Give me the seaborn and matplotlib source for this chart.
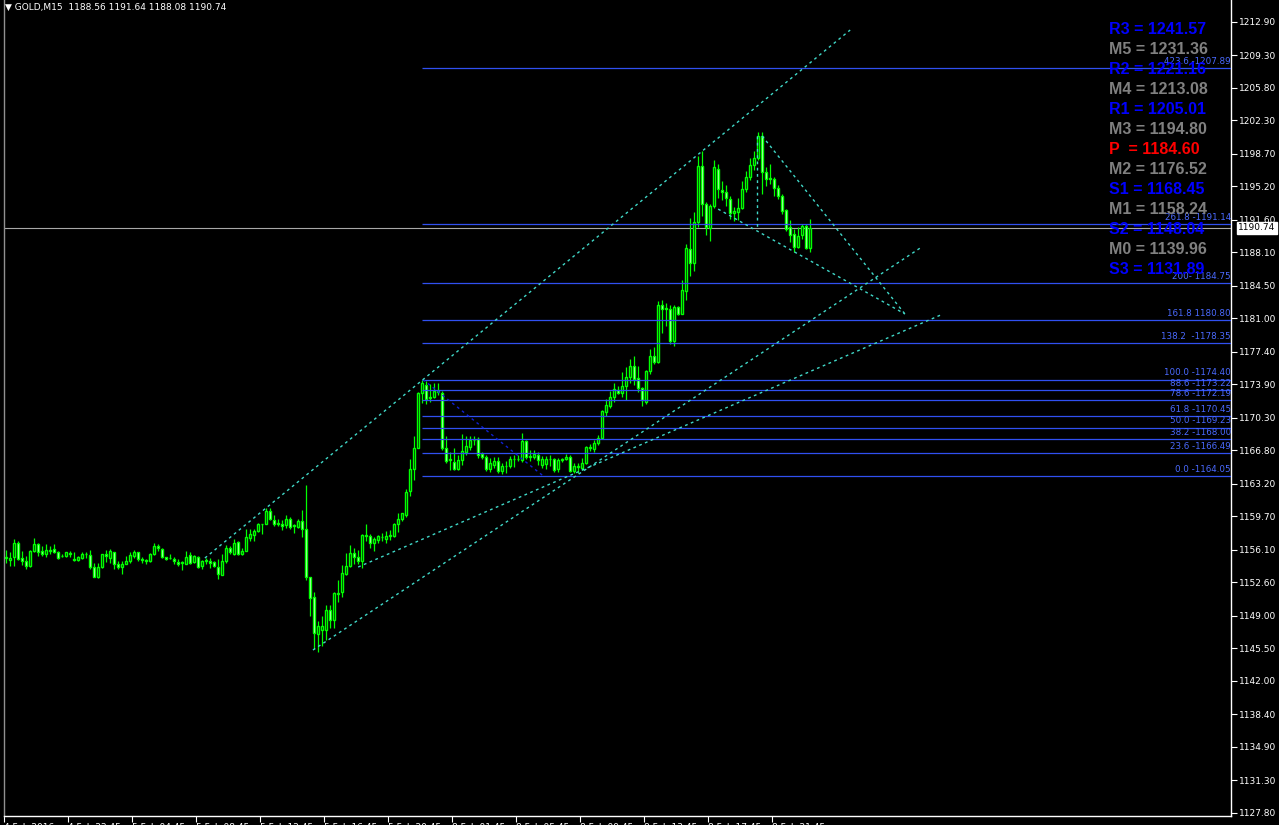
import matplotlib
matplotlib.use("Agg")
import numpy as np
import pandas as pd
import seaborn as sns
import matplotlib.pyplot as plt
import matplotlib.transforms as mtransforms

# ---- GOLD M15 candles ----
opens = [1155.3, 1155.0, 1155.3, 1156.8, 1155.2, 1154.9, 1154.3, 1155.9, 1156.7, 1155.9,
         1155.6, 1156.0, 1156.2, 1155.8, 1155.4, 1155.4, 1155.7, 1155.1, 1155.0, 1155.2,
         1155.6, 1155.5, 1154.2, 1153.1, 1154.2, 1155.6, 1155.2, 1155.8, 1154.6, 1154.2,
         1154.6, 1154.9, 1155.4, 1155.8, 1155.1, 1155.0, 1154.9, 1155.6, 1156.5, 1156.2,
         1155.3, 1155.2, 1155.1, 1154.8, 1154.7, 1154.6, 1155.5, 1154.8, 1155.3, 1154.3,
         1154.9, 1154.9, 1154.8, 1154.2, 1153.4, 1154.9, 1156.3, 1155.6, 1156.9, 1155.6,
         1156.0, 1157.3, 1157.7, 1158.1, 1158.8, 1158.9, 1160.2, 1159.3, 1158.9, 1158.9,
         1158.7, 1159.4, 1158.6, 1158.5, 1159.2, 1158.3, 1153.1, 1151.0, 1147.0, 1147.4,
         1147.4, 1149.6, 1148.5, 1151.4, 1151.5, 1153.5, 1154.3, 1155.7, 1155.3, 1154.9,
         1157.7, 1157.6, 1156.8, 1157.1, 1157.5, 1157.2, 1157.6, 1157.6, 1158.9, 1159.4,
         1159.8, 1162.4, 1164.8, 1167.0, 1173.0, 1173.8, 1172.5, 1172.5, 1173.2, 1172.9,
         1167.0, 1165.8, 1165.5, 1164.8, 1165.7, 1166.6, 1167.1, 1167.9, 1168.0, 1166.4,
         1166.1, 1164.8, 1165.2, 1165.6, 1164.6, 1165.1, 1165.1, 1165.8, 1165.9, 1165.7,
         1167.8, 1166.2, 1166.1, 1166.3, 1165.2, 1165.3, 1165.8, 1165.9, 1164.8, 1165.7,
         1165.8, 1166.1, 1164.6, 1165.0, 1164.9, 1165.4, 1167.1, 1166.9, 1167.6, 1168.1,
         1170.9, 1171.6, 1172.5, 1173.3, 1172.9, 1173.7, 1174.7, 1175.9, 1174.6, 1173.5,
         1172.0, 1175.3, 1176.9, 1176.3, 1182.4, 1182.1, 1182.0, 1178.5, 1182.2, 1181.5,
         1183.9, 1188.4, 1186.9, 1191.4, 1197.4, 1193.3, 1190.7, 1193.1, 1197.1, 1194.8,
         1194.6, 1193.8, 1192.3, 1192.4, 1192.9, 1194.9, 1196.2, 1197.5, 1198.2, 1200.6,
         1196.7, 1196.1, 1196.0, 1195.0, 1194.2, 1192.6, 1190.8, 1190.1, 1188.7, 1189.9,
         1190.9, 1188.56]
highs = [1156.1, 1155.8, 1157.2, 1157.0, 1155.9, 1155.4, 1156.1, 1157.3, 1156.8, 1156.5,
         1156.7, 1156.5, 1156.7, 1155.9, 1155.6, 1155.8, 1155.9, 1155.8, 1155.4, 1155.8,
         1155.8, 1156.1, 1154.7, 1154.7, 1155.6, 1156.1, 1156.2, 1155.8, 1154.9, 1154.9,
         1155.4, 1155.8, 1156.1, 1155.8, 1155.3, 1155.1, 1155.7, 1156.8, 1156.7, 1156.3,
         1155.3, 1155.6, 1155.3, 1155.1, 1154.9, 1155.9, 1155.8, 1155.5, 1155.4, 1155.0,
         1155.2, 1155.2, 1154.9, 1155.1, 1155.6, 1156.6, 1156.5, 1157.2, 1157.0, 1156.3,
         1158.3, 1158.3, 1158.3, 1159.0, 1158.9, 1160.6, 1160.6, 1159.8, 1159.4, 1159.3,
         1159.8, 1159.6, 1158.9, 1159.4, 1160.4, 1163.0, 1153.2, 1151.5, 1148.4, 1149.0,
         1150.1, 1150.1, 1151.5, 1152.8, 1154.4, 1155.7, 1156.6, 1156.3, 1156.1, 1157.8,
         1158.9, 1157.8, 1157.4, 1157.7, 1157.9, 1158.1, 1158.2, 1159.0, 1160.0, 1160.0,
         1162.6, 1165.8, 1168.3, 1173.1, 1174.4, 1174.2, 1173.9, 1174.0, 1174.0, 1173.2,
         1168.3, 1166.6, 1167.0, 1166.3, 1168.5, 1168.3, 1168.3, 1168.3, 1168.2, 1166.6,
         1166.3, 1166.0, 1166.1, 1166.1, 1165.4, 1165.6, 1166.2, 1166.3, 1166.3, 1168.6,
         1167.9, 1166.8, 1166.8, 1166.6, 1166.2, 1166.2, 1166.3, 1166.0, 1166.0, 1166.0,
         1166.4, 1166.3, 1165.4, 1165.4, 1166.0, 1167.2, 1167.5, 1167.9, 1168.4, 1171.1,
         1172.3, 1173.2, 1174.0, 1173.7, 1175.2, 1175.7, 1176.6, 1176.9, 1175.9, 1173.6,
         1175.4, 1177.7, 1177.9, 1182.8, 1183.0, 1182.6, 1182.4, 1182.4, 1182.3, 1185.1,
         1189.0, 1191.8, 1192.4, 1198.4, 1199.0, 1193.5, 1193.3, 1198.0, 1197.6, 1195.8,
         1195.3, 1194.1, 1193.0, 1193.9, 1195.8, 1196.8, 1198.2, 1199.0, 1201.0, 1201.0,
         1197.3, 1197.6, 1196.2, 1195.3, 1194.4, 1192.8, 1191.6, 1190.6, 1190.8, 1191.1,
         1191.1, 1191.64]
lows = [1154.7, 1154.3, 1154.3, 1155.0, 1154.4, 1154.0, 1154.2, 1155.8, 1155.4, 1155.4,
        1155.3, 1155.6, 1155.7, 1155.1, 1155.3, 1155.3, 1155.3, 1154.9, 1154.9, 1155.1,
        1155.2, 1154.0, 1153.1, 1153.0, 1154.1, 1154.8, 1154.7, 1154.0, 1154.0, 1153.5,
        1154.5, 1154.7, 1155.2, 1154.9, 1154.7, 1154.5, 1154.8, 1155.5, 1156.0, 1155.2,
        1155.0, 1155.1, 1154.5, 1154.3, 1153.9, 1154.5, 1154.5, 1154.7, 1154.1, 1154.0,
        1154.5, 1154.1, 1154.2, 1152.9, 1153.4, 1154.7, 1155.6, 1155.5, 1155.5, 1155.5,
        1156.0, 1157.0, 1157.0, 1158.0, 1157.8, 1158.8, 1159.3, 1158.6, 1158.6, 1158.2,
        1158.4, 1158.3, 1157.9, 1158.4, 1157.5, 1152.8, 1148.9, 1145.4, 1145.1, 1145.7,
        1146.4, 1147.7, 1147.7, 1150.5, 1151.0, 1153.4, 1154.2, 1154.5, 1154.5, 1154.1,
        1157.0, 1156.3, 1156.0, 1156.8, 1157.0, 1156.8, 1157.1, 1157.4, 1158.0, 1159.2,
        1159.6, 1161.9, 1163.6, 1167.0, 1171.9, 1171.8, 1172.0, 1172.4, 1172.7, 1166.8,
        1165.4, 1164.7, 1164.7, 1164.7, 1165.2, 1166.3, 1166.8, 1167.3, 1166.0, 1165.9,
        1164.6, 1164.4, 1164.9, 1164.3, 1164.2, 1164.3, 1164.9, 1165.0, 1165.6, 1165.5,
        1165.8, 1165.6, 1165.8, 1165.2, 1164.9, 1164.8, 1165.1, 1164.5, 1164.5, 1165.5,
        1165.7, 1164.5, 1164.3, 1164.3, 1164.7, 1165.3, 1166.7, 1166.6, 1167.4, 1168.0,
        1170.5, 1171.3, 1172.0, 1172.8, 1172.5, 1172.2, 1174.0, 1173.8, 1173.1, 1171.5,
        1171.8, 1175.0, 1176.1, 1176.2, 1179.4, 1180.2, 1178.2, 1178.0, 1181.3, 1181.4,
        1183.0, 1185.5, 1186.1, 1190.8, 1192.0, 1189.9, 1189.3, 1192.9, 1193.9, 1193.7,
        1193.1, 1191.7, 1191.5, 1191.6, 1192.7, 1194.6, 1195.9, 1197.0, 1198.0, 1194.4,
        1195.2, 1195.4, 1194.1, 1193.8, 1192.2, 1190.4, 1189.2, 1188.1, 1188.5, 1189.5,
        1188.4, 1188.08]
closes = [1155.2, 1155.2, 1156.8, 1155.1, 1154.9, 1154.3, 1156.0, 1156.7, 1155.8, 1155.6,
          1156.1, 1156.1, 1155.8, 1155.2, 1155.4, 1155.8, 1155.6, 1155.0, 1155.3, 1155.6,
          1155.6, 1154.2, 1153.2, 1154.2, 1155.6, 1155.4, 1155.9, 1154.6, 1154.2, 1154.6,
          1154.9, 1155.5, 1155.8, 1155.1, 1155.0, 1154.9, 1155.6, 1156.5, 1156.3, 1155.3,
          1155.1, 1155.2, 1154.9, 1154.6, 1154.7, 1155.3, 1154.7, 1155.4, 1154.2, 1154.9,
          1154.9, 1154.7, 1154.3, 1153.5, 1154.9, 1156.3, 1155.8, 1156.8, 1155.6, 1156.0,
          1157.4, 1157.8, 1158.1, 1158.8, 1158.9, 1160.2, 1159.4, 1158.8, 1158.9, 1158.6,
          1159.4, 1158.5, 1158.7, 1159.2, 1158.3, 1153.2, 1150.9, 1147.1, 1147.9, 1147.9,
          1149.6, 1148.5, 1151.4, 1151.3, 1153.6, 1154.3, 1155.7, 1155.3, 1154.9, 1157.7,
          1157.6, 1156.8, 1157.2, 1157.6, 1157.4, 1157.6, 1157.6, 1158.9, 1159.4, 1160.0,
          1162.3, 1164.8, 1167.0, 1172.9, 1174.0, 1172.3, 1172.4, 1173.2, 1173.1, 1167.0,
          1165.6, 1165.7, 1164.8, 1165.7, 1166.7, 1167.2, 1167.9, 1167.9, 1166.3, 1166.1,
          1164.8, 1165.4, 1165.6, 1164.6, 1165.1, 1165.1, 1165.9, 1165.8, 1165.8, 1167.8,
          1166.1, 1166.1, 1166.4, 1165.7, 1165.8, 1165.9, 1165.9, 1164.7, 1165.7, 1165.8,
          1166.1, 1164.6, 1165.1, 1165.1, 1165.4, 1167.1, 1167.0, 1167.6, 1168.1, 1171.0,
          1171.7, 1172.5, 1173.4, 1173.0, 1173.7, 1174.7, 1175.9, 1174.5, 1173.5, 1172.2,
          1175.3, 1176.9, 1176.3, 1182.4, 1182.0, 1182.0, 1178.5, 1182.2, 1181.5, 1184.0,
          1188.5, 1186.9, 1191.4, 1197.4, 1193.3, 1190.8, 1193.1, 1197.3, 1194.9, 1194.6,
          1193.9, 1192.3, 1192.5, 1192.9, 1194.9, 1196.2, 1197.5, 1198.2, 1200.6, 1196.7,
          1196.0, 1196.0, 1195.0, 1194.1, 1192.5, 1190.6, 1190.0, 1188.7, 1189.8, 1190.9,
          1188.6, 1190.74]

# x-axis labels every 16 bars
time_labels = ["4 Feb 2016", "4 Feb 22:45", "5 Feb 04:45", "5 Feb 08:45", "5 Feb 12:45",
               "5 Feb 16:45", "5 Feb 20:45", "8 Feb 01:45", "8 Feb 05:45", "8 Feb 09:45",
               "8 Feb 13:45", "8 Feb 17:45", "8 Feb 21:45"]
price_ticks = [1212.90, 1209.30, 1205.80, 1202.30, 1198.70, 1195.20, 1191.60, 1188.10,
               1184.50, 1181.00, 1177.40, 1173.90, 1170.30, 1166.80, 1163.20, 1159.70,
               1156.10, 1152.60, 1149.00, 1145.50, 1142.00, 1138.40, 1134.90, 1131.30, 1127.80]

# fibonacci levels drawn from bar 104
fib_levels = [1207.89, 1191.14, 1184.75, 1180.80, 1178.35, 1174.40, 1173.22, 1172.19,
              1170.45, 1169.23, 1168.00, 1166.49, 1164.05]
fib_labels = ["423.6 -1207.89", "261.8 -1191.14", "200- 1184.75", "161.8 1180.80",
              "138.2  -1178.35", "100.0 -1174.40", "88.6 -1173.22", "78.6 -1172.19",
              "61.8 -1170.45", "50.0 -1169.23", "38.2 -1168.00", "23.6 -1166.49", "0.0 -1164.05"]

# pivot panel
pivot_names = ["R3", "M5", "R2", "M4", "R1", "M3", "P ", "M2", "S1", "M1", "S2", "M0", "S3"]
pivot_values = [1241.57, 1231.36, 1221.16, 1213.08, 1205.01, 1194.80, 1184.60,
                1176.52, 1168.45, 1158.24, 1148.04, 1139.96, 1131.89]
pivot_colors = ["#0000FF", "#808080", "#0000FF", "#808080", "#0000FF", "#808080", "#FF0000",
                "#808080", "#0000FF", "#808080", "#0000FF", "#808080", "#0000FF"]

# trend lines: (bar, price) -> (bar, price)
trend_x0 = [49.8, 76.8, 88.1, 178.1, 189.1, 187.9]
trend_p0 = [1155.19, 1145.29, 1154.22, 1192.74, 1200.60, 1200.60]
trend_x1 = [211.1, 228.6, 234.3, 224.8, 224.8, 187.9]
trend_p1 = [1212.01, 1188.55, 1181.45, 1181.45, 1181.45, 1190.74]
fib_diag_x = [104.3, 134.3]
fib_diag_p = [1174.40, 1164.05]

last_price = 1190.74

sns.set_theme(style="dark", rc={"axes.facecolor": "black", "figure.facecolor": "black",
                                "savefig.facecolor": "black"})
plt.rcParams["font.family"] = ["DejaVu Sans"]

df = pd.DataFrame({"open": opens, "high": highs, "low": lows, "close": closes})
df["bar"] = np.arange(len(df))
df["bottom"] = df[["open", "close"]].min(axis=1)
df["height"] = (df["close"] - df["open"]).abs().clip(lower=0.03)
df["face"] = np.where(df["close"] >= df["open"], "black", "#F0FFF0")

fig = plt.figure(figsize=(12.79, 8.25), dpi=100)
ax = fig.add_axes([4 / 1279, 9 / 825, 1227 / 1279, 816 / 825])
ax.set_facecolor("black")

lime = "#00FF00"
ax.vlines(df["bar"], df["low"], df["high"], color=lime, linewidth=0.9, zorder=3)
ax.bar(df["bar"], df["height"], bottom=df["bottom"], width=0.6, color=df["face"],
       edgecolor=lime, linewidth=1.0, zorder=3)

# current price line
ax.axhline(last_price, color="#A8A8A8", linewidth=0.8, zorder=2)

# fibonacci
ax.hlines(fib_levels, 104.1, 400, color="#3050F0", linewidth=0.9, zorder=4)
blend = mtransforms.blended_transform_factory(ax.transAxes, ax.transData)
for lvl, lab in zip(fib_levels, fib_labels):
    ax.annotate(lab, xy=(1.0, lvl), xycoords=blend, xytext=(0, 1.5),
                textcoords="offset points", ha="right", va="bottom",
                color="#4A6AFF", fontsize=6.3, zorder=6)
sns.lineplot(x=fib_diag_x, y=fib_diag_p, ax=ax, color="#1020D0", linewidth=1.0,
             linestyle=(0, (2, 2.5)), estimator=None, sort=False, zorder=4)

# trend lines
for x0, p0, x1, p1 in zip(trend_x0, trend_p0, trend_x1, trend_p1):
    ax.plot([x0, x1], [p0, p1], color="#40D8C8", linewidth=1.0,
            linestyle=(0, (2, 2.5)), zorder=4)

ax.set_xlim(-0.425, 306.3)
ax.set_ylim(1127.43, 1215.24)

# axes styling
ax.spines["top"].set_visible(False)
for side in ["bottom", "right"]:
    ax.spines[side].set_visible(True)
    ax.spines[side].set_color("white")
    ax.spines[side].set_linewidth(1.0)
ax.spines["left"].set_visible(True)
ax.spines["left"].set_color("#909090")
ax.spines["left"].set_linewidth(1.0)
ax.grid(False)

ax.yaxis.tick_right()
ax.set_yticks(price_ticks)
ax.set_yticklabels([f"{v:.2f}" for v in price_ticks])
ax.tick_params(axis="y", colors="white", length=4, width=0.8, labelsize=6.5, pad=2,
               direction="out", left=False, right=True)

ax.set_xticks([16 * j - 0.425 for j in range(len(time_labels))])
ax.set_xticklabels(time_labels, ha="left")
ax.tick_params(axis="x", colors="white", length=4, width=0.8, labelsize=6.5, pad=1,
               direction="out", bottom=True)

# current price box on the axis
ax.annotate(f"{last_price:.2f}", xy=(1.0, last_price), xycoords=blend, xytext=(5, 0),
            textcoords="offset points", ha="left", va="center", color="black",
            fontsize=6.5, zorder=7,
            bbox=dict(boxstyle="square,pad=0.15", facecolor="white", edgecolor="white"))

# title
fig.text(5 / 1279, 1 - 7 / 825,
         "\u25BC GOLD,M15  1188.56 1191.64 1188.08 1190.74",
         color="white", fontsize=6.5, va="center", ha="left")

# pivot panel
for j, (nm, val, col) in enumerate(zip(pivot_names, pivot_values, pivot_colors)):
    fig.text(1109 / 1279, 1 - (29 + 20 * j) / 825, f"{nm} = {val:.2f}",
             color=col, fontsize=11.5, fontweight="bold", family=["Liberation Sans"],
             va="center", ha="left", zorder=8)

fig.savefig("out.png", dpi=100, facecolor="black")
